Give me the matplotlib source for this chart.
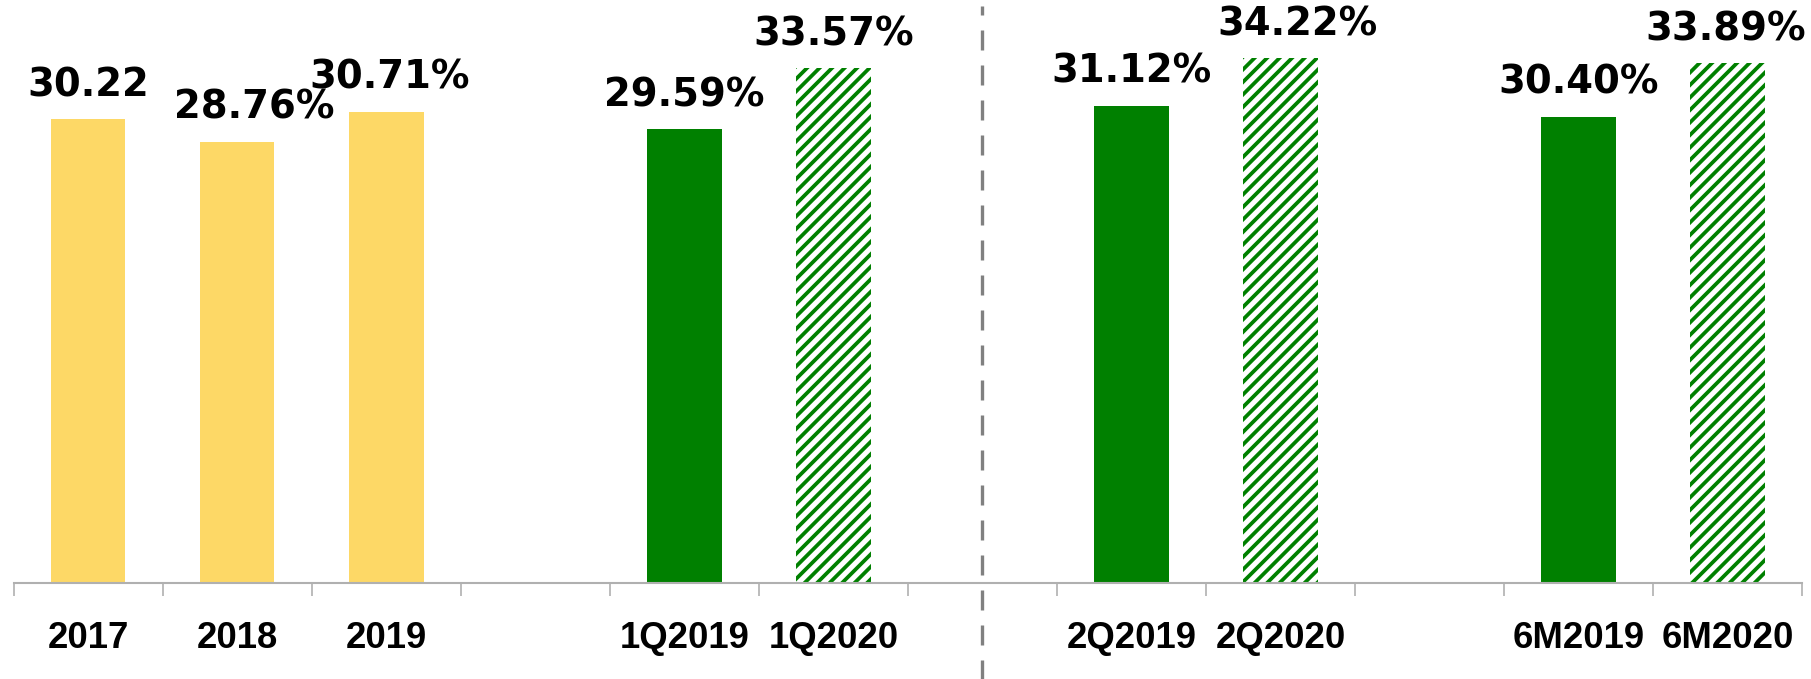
import numpy as np
import matplotlib
matplotlib.use("Agg")
import matplotlib.pyplot as plt
import matplotlib.transforms as mtransforms

# data
categories = ["2017", "2018", "2019", "", "1Q2019", "1Q2020", "",
              "2Q2019", "2Q2020", "", "6M2019", "6M2020"]
values = [30.22, 28.76, 30.71, None, 29.59, 33.57, None,
          31.12, 34.22, None, 30.40, 33.89]
labels = ["30.22", "28.76%", "30.71%", "", "29.59%", "33.57%", "",
          "31.12%", "34.22%", "", "30.40%", "33.89%"]
kind = ["year", "year", "year", "", "prev", "curr", "",
        "prev", "curr", "", "prev", "curr"]
divider_at = 6
# small horizontal nudges of the value labels (points)
nudge = [0, 8, 1.5, 0, 0, 0, 0, 0, 8, 0, 0, -1]

yellow = "#FDD866"
green = "#008000"

plt.rcParams["hatch.linewidth"] = 1.8

dpi = 150
fig = plt.figure(figsize=(1811 / dpi, 679 / dpi), dpi=dpi)
ax = fig.add_axes([13.7 / 1811, 96 / 679, (1802 - 13.7) / 1811, 583 / 679])

x = np.arange(len(categories))
for i in x:
    v = values[i]
    if v is None:
        continue
    if kind[i] == "year":
        ax.bar(i, v, width=0.5, color=yellow, linewidth=0)
    elif kind[i] == "prev":
        ax.bar(i, v, width=0.5, color=green, linewidth=0)
    else:
        ax.bar(i, v, width=0.5, facecolor="white", edgecolor=green,
               hatch="////", linewidth=0)
    ax.annotate(labels[i], (i, v), xytext=(nudge[i], 11), textcoords="offset points",
                ha="center", va="baseline", fontsize=18.5, fontweight="bold",
                family="DejaVu Sans", color="black")

ax.set_xlim(-0.5, len(categories) - 0.5)
ax.set_ylim(0, 38)

# dashed divider running below the axis
trans = mtransforms.blended_transform_factory(ax.transData, ax.transAxes)
ax.plot([divider_at, divider_at], [-0.17, 0.99], transform=trans, clip_on=False,
        color="#808080", lw=1.6, dashes=(6, 4.5))

for s in ["top", "right", "left"]:
    ax.spines[s].set_visible(False)
ax.spines["bottom"].set_color("#b0b0b0")
ax.spines["bottom"].set_linewidth(1.0)
ax.set_yticks([])

ax.set_xticks(x)
ax.set_xticklabels(categories, fontsize=17.5, fontweight="bold",
                   family="Liberation Sans")
ax.tick_params(axis="x", which="major", length=0, pad=18)
ax.set_xticks(np.arange(len(categories) + 1) - 0.5, minor=True)
ax.tick_params(axis="x", which="minor", length=6, width=0.8, color="#b0b0b0")

fig.savefig("out.png", dpi=dpi)
